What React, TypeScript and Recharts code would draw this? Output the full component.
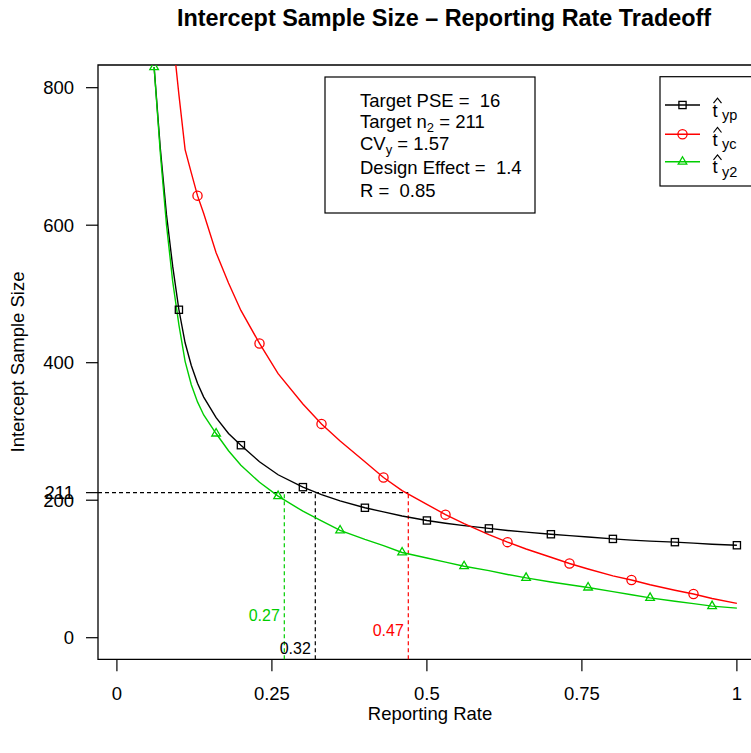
import {
  ComposedChart,
  Line,
  Scatter,
  XAxis,
  YAxis,
  ReferenceLine,
  ReferenceArea,
  Customized,
} from 'recharts';

// reporting rate grid shared by the three curves
const rate = [
  0.06, 0.07, 0.08, 0.09, 0.1, 0.11, 0.12, 0.13, 0.14, 0.16, 0.18, 0.2, 0.23, 0.26, 0.3, 0.33, 0.36, 0.4,
  0.43, 0.46, 0.5, 0.53, 0.56, 0.6, 0.63, 0.66, 0.7, 0.73, 0.76, 0.8, 0.83, 0.86, 0.9, 0.93, 0.96, 1.0,
];

// intercept sample size for each estimator
const tYp = [
  830, 712, 615, 540, 477, 429, 396, 370, 350, 320, 297, 280, 256, 237, 219, 208, 199, 189,
  183, 177, 170.5, 166.5, 163, 159, 156, 153.5, 150.5, 148.5, 146.5, 143.7, 142, 140.5, 139, 137.5, 136, 134.5,
];
const tYc = [
  null, null, null, 876, 790, 710, 676, 643, 617, 560, 516, 476, 428, 384, 340, 311, 286, 256,
  233, 214, 194, 179, 166, 150, 139, 129, 117, 108, 100, 90, 84, 77, 69, 63.5, 57, 50,
];
const tY2 = [
  830, 705, 600, 518, 455, 402, 368, 343, 324, 297, 272, 251, 226, 206, 184, 170, 156, 143,
  134, 124, 116, 110, 104, 97.5, 92, 87, 81, 77, 73, 67, 62.5, 58, 53, 49.5, 46, 43,
];

// rates where plotting symbols are drawn
const ypMarks = [0.1, 0.2, 0.3, 0.4, 0.5, 0.6, 0.7, 0.8, 0.9, 1.0];
const ycMarks = [0.13, 0.23, 0.33, 0.43, 0.53, 0.63, 0.73, 0.83, 0.93];
const y2Marks = [0.06, 0.16, 0.26, 0.36, 0.46, 0.56, 0.66, 0.76, 0.86, 0.96];

const xTicks = [0, 0.25, 0.5, 0.75, 1];
const yTicks = [0, 200, 211, 400, 600, 800];

// target n2 and the reporting rate needed by each estimator
const targetN = 211;
const cutRates = [0.27, 0.32, 0.47];
const cutLabelY = [32, -15, 10];
const cutNames = ['0.27', '0.32', '0.47'];

const BLACK = '#000000';
const RED = '#ff0000';
const GREEN = '#00cd00';
const cutColors = [GREEN, BLACK, RED];

const X_DOMAIN: [number, number] = [-0.0305, 1.0405];
const Y_DOMAIN: [number, number] = [-31.4, 833];
const FONT = '"Liberation Sans", Arial, Helvetica, sans-serif';
const NBSP = '\u00a0';

const rows = rate.map((r, i) => ({ rate: r, yp: tYp[i], yc: tYc[i], y2: tY2[i] }));
const cutLabels = cutRates.map((r, i) => ({
  rate: r,
  n: cutLabelY[i],
  label: cutNames[i],
  color: cutColors[i],
}));

type Shape = 'square' | 'circle' | 'triangle';

function Marker({ cx, cy, shape, color }: { cx: number; cy: number; shape: Shape; color: string }) {
  if (shape === 'square') {
    return <rect x={cx - 3.6} y={cy - 3.6} width={7.2} height={7.2} fill="none" stroke={color} strokeWidth={1.3} />;
  }
  if (shape === 'circle') {
    return <circle cx={cx} cy={cy} r={4.6} fill="none" stroke={color} strokeWidth={1.3} />;
  }
  const k = 3.2;
  const pts = `${cx},${cy - 1.555 * k} ${cx + 1.347 * k},${cy + 0.778 * k} ${cx - 1.347 * k},${cy + 0.778 * k}`;
  return <polygon points={pts} fill="none" stroke={color} strokeWidth={1.3} />;
}

const markerDot = (marks: number[], shape: Shape, color: string) => (props: any) => {
  const { cx, cy, payload, index } = props;
  const show = payload && marks.some((m) => Math.abs(m - payload.rate) < 1e-6);
  if (!show || cx == null || cy == null || Number.isNaN(cy)) return <g key={`d-${index}`} />;
  return (
    <g key={`d-${index}`}>
      <Marker cx={cx} cy={cy} shape={shape} color={color} />
    </g>
  );
};

const CutLabel = (props: any) => {
  const { cx, cy, payload } = props;
  return (
    <text x={cx - 4.5} y={cy} dy="0.35em" textAnchor="end" fontSize={16} fontFamily={FONT} fill={payload.color}>
      {payload.label}
    </text>
  );
};

function LegendRow({ y, color, shape, sub }: { y: number; color: string; shape: Shape; sub: string }) {
  return (
    <g>
      <line x1={665} x2={700} y1={y} y2={y} stroke={color} strokeWidth={1.4} />
      <Marker cx={682.5} cy={y} shape={shape} color={color} />
      <polyline
        points={`${713.5},${y - 1.8} ${717.5},${y - 6.8} ${721.5},${y - 1.8}`}
        fill="none"
        stroke="#000"
        strokeWidth={1.2}
      />
      <text x={712.5} y={y + 11.7} fontSize={18.5} fontFamily={FONT} fill="#000">
        t
      </text>
      <text x={722} y={y + 15} fontSize={14.5} fontFamily={FONT} fill="#000">
        {sub}
      </text>
    </g>
  );
}

function Annotations() {
  const sub = { fontSize: 13 };
  return (
    <g fontFamily={FONT} fill="#000">
      <text x={444} y={26} textAnchor="middle" fontSize={23.4} fontWeight="bold">
        Intercept Sample Size – Reporting Rate Tradeoff
      </text>
      <text x={430} y={720} textAnchor="middle" fontSize={18.5}>
        Reporting Rate
      </text>
      <text x={24} y={362} textAnchor="middle" fontSize={18.5} transform="rotate(-90, 24, 362)">
        Intercept Sample Size
      </text>

      <rect x={325} y={77} width={210} height={136} fill="#fff" stroke="#000" strokeWidth={1.2} />
      <g fontSize={18.5}>
        <text x={360} y={106.5}>{`Target PSE =${NBSP}${NBSP}16`}</text>
        <text x={360} y={127.5}>
          {'Target n'}
          <tspan dy={4} style={sub}>2</tspan>
          <tspan dy={-4}>{`${NBSP}= 211`}</tspan>
        </text>
        <text x={360} y={149.5}>
          {'CV'}
          <tspan dy={4} style={sub}>y</tspan>
          <tspan dy={-4}>{`${NBSP}= 1.57`}</tspan>
        </text>
        <text x={360} y={174}>{`Design Effect =${NBSP}${NBSP}1.4`}</text>
        <text x={360} y={197}>{`R =${NBSP}${NBSP}0.85`}</text>
      </g>

      <rect x={660} y={76.7} width={110} height={109.3} fill="#fff" stroke="#000" strokeWidth={1.2} />
      <LegendRow y={105} color={BLACK} shape="square" sub="yp" />
      <LegendRow y={134.3} color={RED} shape="circle" sub="yc" />
      <LegendRow y={161.7} color={GREEN} shape="triangle" sub="y2" />
    </g>
  );
}

const tickStyle = { fontSize: 18.5, fill: '#000', fontFamily: FONT };

export default function App() {
  return (
    <div
      style={{
        position: 'absolute',
        left: 0,
        top: 0,
        width: 751,
        height: 753,
        overflow: 'hidden',
        background: '#fff',
        fontFamily: FONT,
      }}
    >
      <ComposedChart
        width={780}
        height={753}
        data={rows}
        margin={{ top: 65, right: 18, left: 38, bottom: 33.7 }}
      >
        <XAxis
          dataKey="rate"
          type="number"
          domain={X_DOMAIN}
          ticks={xTicks}
          interval={0}
          allowDataOverflow
          axisLine={false}
          tickLine={{ stroke: '#000', strokeWidth: 1.2 }}
          tickSize={12}
          tickMargin={16}
          height={60}
          tick={tickStyle}
          tickFormatter={(v) => String(v)}
        />
        <YAxis
          type="number"
          domain={Y_DOMAIN}
          ticks={yTicks}
          interval={0}
          allowDataOverflow
          axisLine={false}
          tickLine={{ stroke: '#000', strokeWidth: 1.2 }}
          tickSize={12}
          tickMargin={12}
          width={60}
          tick={tickStyle}
        />
        <ReferenceArea
          x1={X_DOMAIN[0]}
          x2={X_DOMAIN[1]}
          y1={Y_DOMAIN[0]}
          y2={Y_DOMAIN[1]}
          fill="none"
          stroke="#000"
          strokeWidth={1.3}
          fillOpacity={0}
          ifOverflow="visible"
        />
        <ReferenceLine
          segment={[
            { x: X_DOMAIN[0], y: targetN },
            { x: cutRates[2], y: targetN },
          ]}
          stroke={BLACK}
          strokeDasharray="4 3"
          strokeWidth={1.2}
          ifOverflow="visible"
        />
        {cutRates.map((r, i) => (
          <ReferenceLine
            key={r}
            segment={[
              { x: r, y: Y_DOMAIN[0] },
              { x: r, y: targetN },
            ]}
            stroke={cutColors[i]}
            strokeDasharray="4 3"
            strokeWidth={1.2}
            ifOverflow="visible"
          />
        ))}
        <Line
          dataKey="yp"
          type="linear"
          stroke={BLACK}
          strokeWidth={1.4}
          dot={markerDot(ypMarks, 'square', BLACK)}
          activeDot={false}
          isAnimationActive={false}
        />
        <Line
          dataKey="yc"
          type="linear"
          stroke={RED}
          strokeWidth={1.4}
          dot={markerDot(ycMarks, 'circle', RED)}
          activeDot={false}
          isAnimationActive={false}
        />
        <Line
          dataKey="y2"
          type="linear"
          stroke={GREEN}
          strokeWidth={1.4}
          dot={markerDot(y2Marks, 'triangle', GREEN)}
          activeDot={false}
          isAnimationActive={false}
        />
        <Scatter data={cutLabels} dataKey="n" shape={CutLabel} isAnimationActive={false} />
        <Customized component={<Annotations />} />
      </ComposedChart>
    </div>
  );
}
